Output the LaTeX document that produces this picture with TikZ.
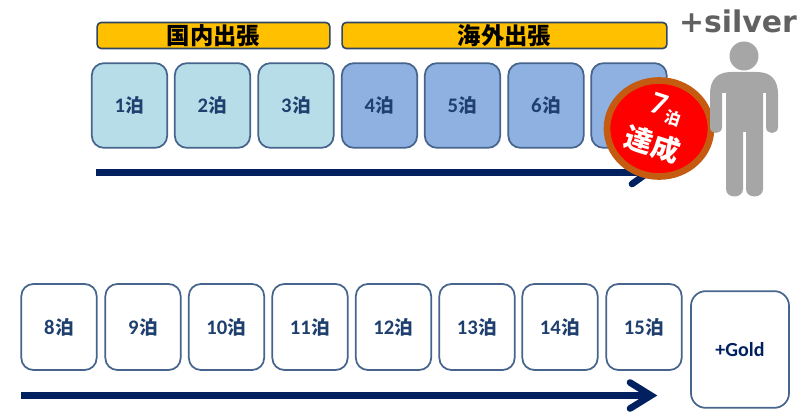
\documentclass[tikz,border=0pt]{standalone}
\usepackage{fontspec}
\setmainfont{Carlito}
\newfontfamily\cjk{Noto Sans CJK JP}
\newfontfamily\silverfont{DejaVu Sans}
\usetikzlibrary{shapes.geometric}
\definecolor{edgeblue}{HTML}{46648C}
\definecolor{textblue}{HTML}{1F3F6E}
\definecolor{navy}{HTML}{002060}
\definecolor{lightbox}{HTML}{B7DEE8}
\definecolor{midbox}{HTML}{8EB1E2}
\definecolor{gold}{HTML}{FFC000}
\definecolor{ring}{HTML}{C55A11}
\definecolor{figgray}{HTML}{A6A6A6}
\newcommand{\haku}[1]{{\fontsize{15.5pt}{16pt}\selectfont\bfseries #1\hspace{0.5pt}\cjk\fontsize{14pt}{16pt}\selectfont\bfseries 泊}}
\tikzset{
  x=0.75pt,y=-0.75pt,
  daybox/.style={draw=edgeblue,line width=1.3pt,rounded corners=9pt,minimum width=56.5pt,minimum height=63.5pt,inner sep=0pt,text=textblue,font=\bfseries},
  lightday/.style={daybox,fill=lightbox},
  midday/.style={daybox,fill=midbox},
  whiteday/.style={daybox,fill=white,minimum height=64.5pt},
  header/.style={draw=edgeblue!70!black,line width=1.2pt,fill=gold,rounded corners=3pt,minimum height=19.5pt,inner sep=0pt,font=\cjk\bfseries\fontsize{17.5pt}{19pt}\selectfont,text=black},
  timeline/.style={draw=navy,line width=5pt},
  tiparm/.style={draw=navy,line width=5pt,line cap=round},
  badge/.style={text=white,rotate=-18,inner sep=0pt},
}
\begin{document}
\begin{tikzpicture}
\useasboundingbox (0,0) rectangle (800,417);
\node[header,minimum width=174.5pt] (dom) at (213.5,35.5) {国内出張};
\node[header,minimum width=243.5pt] (intl) at (504.5,35.5) {海外出張};
\node[lightday] (d1) at (129.5,105.5) {\haku{1}};
\node[lightday] (d2) at (212.5,105.5) {\haku{2}};
\node[lightday] (d3) at (296,105.5) {\haku{3}};
\node[midday] (d4) at (379.5,105.5) {\haku{4}};
\node[midday] (d5) at (462.5,105.5) {\haku{5}};
\node[midday] (d6) at (546,105.5) {\haku{6}};
\node[midday] (d7) at (629,105.5) {};
\coordinate (a1s) at (96,172.5);
\coordinate (a1e) at (648,172.5);
\coordinate (a1u) at (632,161);
\coordinate (a1d) at (632,184);
\draw[timeline] (a1s) -- (a1e);
\draw[tiparm] (a1u) -- (a1e) -- (a1d);
\node[ellipse,draw=ring,line width=5pt,fill=red,minimum width=78pt,minimum height=72pt,inner sep=0pt] (goal) at (659,128.5) {};
\node[badge,font=\bfseries\fontsize{24pt}{25pt}\selectfont] (seven) at (659,104) {7};
\node[badge,font=\cjk\bfseries\fontsize{12pt}{13pt}\selectfont] (haku7) at (673,118) {泊};
\node[badge,font=\cjk\bfseries\fontsize{21pt}{22pt}\selectfont] (tassei) at (652.5,144) {達成};
\node[text=black!62,inner sep=0pt,font=\silverfont\bfseries\fontsize{22.4pt}{24pt}\selectfont] (silver) at (738,21) {+silver};
\fill[figgray] (744,56) circle[radius=14.5];
\fill[figgray] (710,94) .. controls (710,80) and (717,72) .. (731,72) -- (757,72) .. controls (771,72) and (778,80) .. (778,94) -- (778,127) .. controls (778,135) and (766,135) .. (766,127) -- (766,93) -- (763,93) -- (763,189) .. controls (763,199) and (746,199) .. (746,189) -- (746,132) -- (743,132) -- (743,189) .. controls (743,199) and (726,199) .. (726,189) -- (726,93) -- (722,93) -- (722,127) .. controls (722,135) and (710,135) .. (710,127) -- cycle;
\node[whiteday] (e8) at (59,327) {\haku{8}};
\node[whiteday] (e9) at (143,327) {\haku{9}};
\node[whiteday] (e10) at (226.5,327) {\haku{10}};
\node[whiteday] (e11) at (310,327) {\haku{11}};
\node[whiteday] (e12) at (393.5,327) {\haku{12}};
\node[whiteday] (e13) at (477,327) {\haku{13}};
\node[whiteday] (e14) at (560,327) {\haku{14}};
\node[whiteday] (e15) at (644,327) {\haku{15}};
\node[draw=edgeblue,line width=1.3pt,rounded corners=11pt,minimum width=73.5pt,minimum height=87.5pt,inner sep=0pt,text=navy,font=\bfseries\fontsize{15pt}{16pt}\selectfont] (goldbox) at (740,349.5) {+Gold};
\coordinate (a2s) at (21,395.5);
\coordinate (a2e) at (651,395.5);
\coordinate (a2u) at (630,382.5);
\coordinate (a2d) at (630,408.5);
\draw[timeline,line width=5.5pt] (a2s) -- (a2e);
\draw[tiparm] (a2u) -- (a2e) -- (a2d);
\end{tikzpicture}
\end{document}
